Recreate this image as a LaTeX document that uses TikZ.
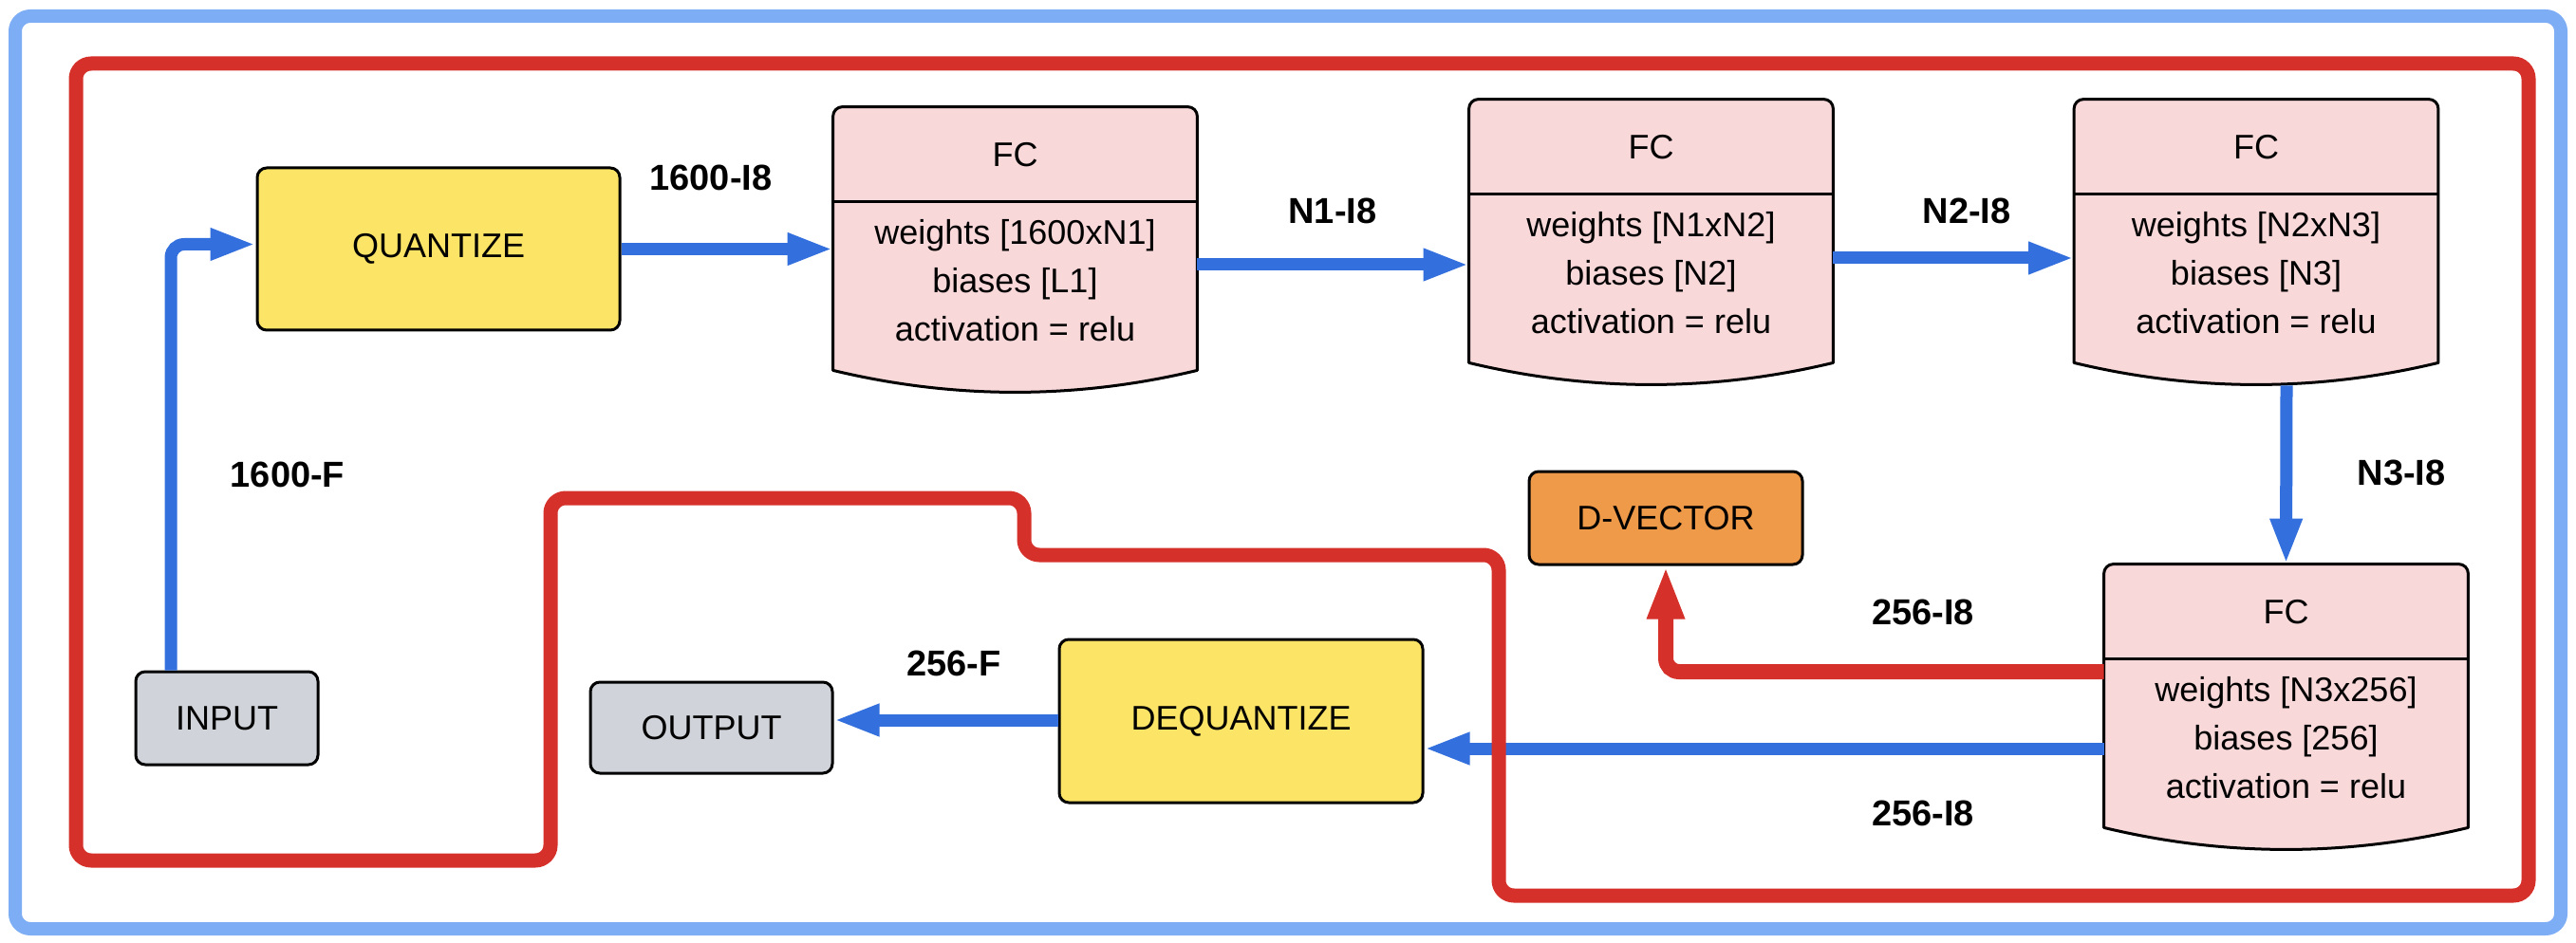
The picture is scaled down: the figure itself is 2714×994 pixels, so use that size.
\documentclass[tikz,border=0pt]{standalone}
\usepackage{fontspec}
\setmainfont{Liberation Sans}
\usetikzlibrary{arrows.meta,calc}
\definecolor{bordblue}{HTML}{7DADF5}
\definecolor{arrblue}{HTML}{3370DD}
\definecolor{redc}{HTML}{D5312A}
\definecolor{yel}{HTML}{FCE566}
\definecolor{pinkc}{HTML}{F8D8D9}
\definecolor{grayc}{HTML}{D0D4DA}
\definecolor{orangec}{HTML}{EF9A48}
\tikzset{
  box/.style={draw=black, line width=1.5pt, rounded corners=5pt, inner sep=0pt,
    font=\fontsize{18}{22}\selectfont, text=black},
  fcframe/.style={draw=none, inner sep=0pt, minimum width=191.5pt, minimum height=138.5pt},
  fcshape/.style={fill=pinkc, draw=black, line width=1.5pt, line join=round},
  fctext/.style={font=\fontsize{18}{25.5}\selectfont, align=center, inner sep=0pt},
  lbl/.style={font=\bfseries\fontsize{19}{23}\selectfont, inner sep=0pt},
  barrow/.style={draw=arrblue, line width=6.5pt, -{Triangle[length=24pt,width=15.5pt]}},
  rarrow/.style={draw=redc, line width=8pt, -{Triangle[length=28pt,width=18pt]}},
  redline/.style={draw=redc, line width=7.5pt, rounded corners=8pt},
  border/.style={draw=bordblue, line width=7pt, rounded corners=8pt}
}
\newcommand\drawfc[1]{%
  \path[fcshape] (#1.south west) -- ([yshift=-5pt]#1.north west)
     arc[start angle=180, end angle=90, radius=5pt]
     -- ([xshift=-5pt]#1.north east)
     arc[start angle=90, end angle=0, radius=5pt]
     -- (#1.south east)
     .. controls +(-127.7,30.7) and +(127.7,30.7) .. (#1.south west) -- cycle;
  \draw[black, line width=1.5pt] ([yshift=-50pt]#1.north west) -- ([yshift=-50pt]#1.north east);
}
\begin{document}
\begin{tikzpicture}[x=0.5pt,y=-0.5pt]
\useasboundingbox (0,0) rectangle (2714,994);
\fill[white] (0,0) rectangle (2714,994);
\draw[border] (16,17) rectangle (2698,979);

% plain boxes
\node[box, fill=yel, minimum width=191pt, minimum height=85.5pt] (quant) at (462,262.5) {QUANTIZE};
\node[box, fill=grayc, minimum width=96pt, minimum height=49pt] (input) at (239,757) {INPUT};
\node[box, fill=grayc, minimum width=127.5pt, minimum height=48pt] (output) at (749.5,767) {OUTPUT};
\node[box, fill=yel, minimum width=191.5pt, minimum height=86pt] (deq) at (1307.5,760) {DEQUANTIZE};
\node[box, fill=orangec, minimum width=144pt, minimum height=49pt] (dvec) at (1755,546) {D-VECTOR};

% FC frames
\node[fcframe] (fc1) at (1069.5,251.5) {};
\node[fcframe] (fc2) at (1739.5,243.5) {};
\node[fcframe] (fc3) at (2377,243.5) {};
\node[fcframe] (fc4) at (2408.5,733.5) {};
\drawfc{fc1}\drawfc{fc2}\drawfc{fc3}\drawfc{fc4}

\node[fctext] (fc1t) at ($(fc1.north)+(0,51)$) {FC};
\node[fctext] (fc1b) at ($(fc1.north)+(0,183)$) {weights [1600xN1]\\biases [L1]\\activation = relu};
\node[fctext] (fc2t) at ($(fc2.north)+(0,51)$) {FC};
\node[fctext] (fc2b) at ($(fc2.north)+(0,183)$) {weights [N1xN2]\\biases [N2]\\activation = relu};
\node[fctext] (fc3t) at ($(fc3.north)+(0,51)$) {FC};
\node[fctext] (fc3b) at ($(fc3.north)+(0,183)$) {weights [N2xN3]\\biases [N3]\\activation = relu};
\node[fctext] (fc4t) at ($(fc4.north)+(0,51)$) {FC};
\node[fctext] (fc4b) at ($(fc4.north)+(0,183)$) {weights [N3x256]\\biases [256]\\activation = relu};

% blue connectors
\draw[barrow, rounded corners=7pt] ([xshift=-29.5pt]input.north) |- ([yshift=2.5pt]quant.west);
\draw[barrow] (quant.east) -- (quant.east -| fc1.west);
\draw[barrow] ([yshift=-13.75pt]fc1.east) -- ([yshift=-17.75pt]fc2.west);
\draw[barrow] ([yshift=-14.25pt]fc2.east) -- ([yshift=-14.25pt]fc3.west);
\draw[barrow] ([xshift=16pt,yshift=-12pt]fc3.south) -- (fc4.north);
\draw[barrow] ([yshift=-27.75pt]fc4.west) -- ([yshift=-14.5pt]deq.east);
\draw[barrow] ([yshift=0.5pt]deq.west) -- ([yshift=4pt]output.east);

% red boundary
\draw[redline] (80,67) -- (2664,67) -- (2664,944) -- (1579,944) -- (1579,585)
  -- (1079,585) -- (1079,525) -- (580,525) -- (580,907) -- (80,907) -- cycle;

% red connector
\draw[rarrow, rounded corners=7pt] ([yshift=12.75pt]fc4.west) -| (dvec.south);

% labels
\node[lbl] (l1) at (749,187) {1600-I8};
\node[lbl] (l2) at (303,500) {1600-F};
\node[lbl] (l3) at (1404,222) {N1-I8};
\node[lbl] (l4) at (2072,222) {N2-I8};
\node[lbl] (l5) at (2530,498) {N3-I8};
\node[lbl] (l6) at (2026,645) {256-I8};
\node[lbl] (l7) at (2026,857) {256-I8};
\node[lbl] (l8) at (1005,699) {256-F};
\end{tikzpicture}
\end{document}
